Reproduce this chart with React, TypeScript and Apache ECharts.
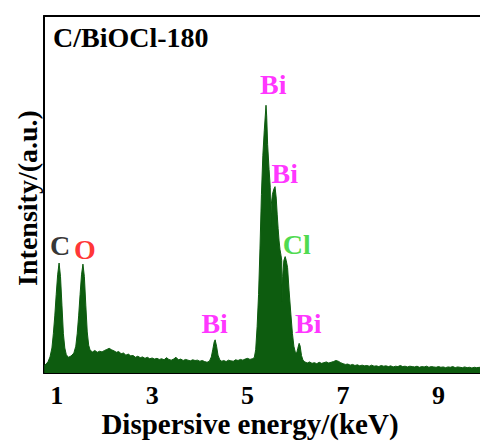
import { useEffect, useRef } from 'react';
import * as echarts from 'echarts';

const energy = [
  0.74, 0.78, 0.82, 0.86, 0.9, 0.93, 0.96, 0.99, 1.02, 1.05, 1.08, 1.11, 1.14, 1.17, 1.2, 1.24, 1.28, 1.32, 1.36, 1.4,
  1.43, 1.46, 1.49, 1.52, 1.55, 1.58, 1.61, 1.64, 1.67, 1.7, 1.75, 1.8, 1.85, 1.9, 1.95, 2.0, 2.05, 2.1, 2.15, 2.2,
  2.25, 2.3, 2.35, 2.4, 2.45, 2.5, 2.55, 2.6, 2.65, 2.7, 2.75, 2.8, 2.85, 2.9, 2.95, 3.0, 3.05, 3.1, 3.15, 3.2,
  3.25, 3.3, 3.35, 3.4, 3.45, 3.5, 3.55, 3.6, 3.65, 3.7, 3.75, 3.8, 3.85, 3.9, 3.95, 4.0, 4.05, 4.1, 4.15, 4.2,
  4.24, 4.27, 4.3, 4.32, 4.35, 4.38, 4.42, 4.46, 4.5, 4.55, 4.6, 4.65, 4.7, 4.75, 4.8, 4.85, 4.9, 4.95, 5.0, 5.05,
  5.1, 5.14, 5.17, 5.2, 5.23, 5.26, 5.29, 5.32, 5.35, 5.386, 5.4, 5.42, 5.45, 5.475, 5.485, 5.495, 5.52, 5.55, 5.575, 5.6,
  5.62, 5.64, 5.66, 5.68, 5.7, 5.715, 5.725, 5.735, 5.76, 5.787, 5.81, 5.838, 5.87, 5.907, 5.94, 5.97, 6.0, 6.03, 6.05, 6.08,
  6.1, 6.13, 6.16, 6.2, 6.25, 6.3, 6.35, 6.4, 6.45, 6.5, 6.55, 6.6, 6.65, 6.7, 6.75, 6.8, 6.85, 6.9, 6.95, 7.0,
  7.05, 7.1, 7.15, 7.2, 7.25, 7.3, 7.35, 7.4, 7.45, 7.5, 7.55, 7.6, 7.65, 7.7, 7.75, 7.8, 7.85, 7.9, 7.95, 8.0,
  8.05, 8.1, 8.15, 8.2, 8.25, 8.3, 8.35, 8.4, 8.45, 8.5, 8.55, 8.6, 8.65, 8.7, 8.75, 8.8, 8.85, 8.9, 8.95, 9.0,
  9.05, 9.1, 9.15, 9.2, 9.25, 9.3, 9.35, 9.4, 9.45, 9.5, 9.55, 9.6, 9.65, 9.7, 9.75, 9.8, 9.87,
];

const intensity = [
  2.2, 2.5, 3.2, 4.5, 7, 11, 16, 22, 27.5, 30.8, 27, 19, 11, 7, 5.2, 4.4, 4.6, 5.0, 5.6, 7.5,
  11, 16, 22, 27.5, 30.5, 27, 19, 11.5, 7.8, 6.4, 5.9, 6.3, 5.8, 6.1, 5.9, 6.3, 6.6, 6.9, 6.5, 6.2,
  5.8, 6.0, 5.4, 5.6, 5.0, 5.3, 4.8, 4.9, 4.4, 4.7, 4.3, 4.5, 4.1, 4.4, 4.0, 4.2, 3.9, 4.1, 3.8, 4.0,
  3.7, 4.3, 3.8, 3.6, 3.9, 4.4, 3.7, 3.9, 3.5, 3.8, 3.6, 3.4, 3.7, 3.5, 3.6, 3.3, 3.5, 3.2, 3.0, 3.3,
  4.5, 6.5, 8.7, 9.3, 7.5, 5.0, 3.6, 3.3, 3.5, 3.2, 3.6, 3.4, 3.3, 3.7, 3.5, 3.8, 3.6, 3.9, 4.1, 3.8,
  4.0, 4.3, 6.5, 13, 22, 35, 50, 61, 68, 75, 72, 64, 57, 52, 41, 47, 50, 51.5, 52.2, 49,
  44.5, 40.5, 37, 34.5, 33, 31.5, 20, 27, 31.5, 32.6, 31.5, 29.5, 23, 16.5, 11, 7.5, 5.8, 5.6, 6.8, 8.3,
  7.6, 4.9, 3.6, 3.1, 2.8, 3.1, 2.7, 2.9, 2.6, 3.0, 2.7, 2.9, 3.1, 2.8, 3.0, 3.2, 3.5, 3.3, 2.9, 2.6,
  2.4, 2.5, 2.2, 2.4, 2.1, 2.3, 2.0, 2.2, 2.0, 2.1, 1.9, 2.2, 1.9, 2.0, 1.8, 2.1, 1.9, 2.0, 1.8, 2.0,
  1.7, 1.9, 1.8, 2.1, 1.8, 1.9, 1.7, 1.9, 1.8, 1.7, 1.9, 1.6, 1.8, 1.7, 1.9, 1.6, 1.8, 1.7, 1.6, 1.8,
  1.6, 1.7, 1.5, 1.7, 1.6, 1.8, 1.5, 1.7, 1.6, 1.5, 1.7, 1.5, 1.6, 1.4, 1.6, 1.5, 1.6,
];

const peakNames = ['C', 'O', 'Bi', 'Bi', 'Cl', 'Bi', 'Bi'];
const peakEnergy = [1.07, 1.59, 5.54, 5.78, 6.03, 4.31, 6.27];
const peakIntensity = [35.6, 34.7, 80.7, 56.0, 36.0, 14.0, 14.0];
const peakColors = ['#000000', '#ff0000', '#ff00ff', '#ff00ff', '#1fd11f', '#ff00ff', '#ff00ff'];

const xTickValues = [1, 1.5, 2, 2.5, 3, 3.5, 4, 4.5, 5, 5.5, 6, 6.5, 7, 7.5, 8, 8.5, 9, 9.5];
const xLabelValues = [1, 3, 5, 7, 9];

const sampleName = 'C/BiOCl-180';
const xTitle = 'Dispersive energy/(keV)';
const yTitle = 'Intensity/(a.u.)';

const X_MIN = 0.734;
const X_MAX = 9.87;
const FONT = '"Liberation Serif", "Times New Roman", serif';
const GREEN = '#0d5c0f';

export default function App() {
  const ref = useRef<HTMLDivElement>(null);

  useEffect(() => {
    if (!ref.current) return;
    const chart = echarts.init(ref.current, undefined, { renderer: 'svg' });
    const axisLineStyle = { color: '#000', width: 2 };
    chart.setOption({
      animation: false,
      backgroundColor: '#fff',
      grid: { left: 44, top: 16, right: 0, bottom: 68 },
      xAxis: [
        {
          type: 'value',
          min: X_MIN,
          max: X_MAX,
          axisLine: { show: true, onZero: false, lineStyle: axisLineStyle },
          axisTick: {
            show: true,
            inside: true,
            length: 5,
            customValues: xTickValues,
            lineStyle: { color: '#000', width: 1.5 },
          },
          axisLabel: {
            customValues: xLabelValues,
            margin: 12,
            lineHeight: 20,
            fontFamily: FONT,
            fontWeight: 'bold',
            fontSize: 26,
            color: '#000',
          },
          splitLine: { show: false },
        },
        {
          type: 'value',
          position: 'top',
          min: X_MIN,
          max: X_MAX,
          axisLine: { show: true, onZero: false, lineStyle: axisLineStyle },
          axisTick: { show: false },
          axisLabel: { show: false },
          splitLine: { show: false },
        },
      ],
      yAxis: {
        type: 'value',
        min: 0,
        max: 100,
        axisLine: { show: true, onZero: false, lineStyle: axisLineStyle },
        axisTick: { show: false },
        axisLabel: { show: false },
        splitLine: { show: false },
      },
      series: [
        {
          type: 'line',
          xAxisIndex: 0,
          data: energy.map((e, i) => [e, intensity[i]]),
          showSymbol: false,
          symbol: 'none',
          lineStyle: { color: GREEN, width: 1 },
          areaStyle: { color: GREEN, opacity: 1 },
          z: 2,
          silent: true,
        },
        {
          type: 'scatter',
          xAxisIndex: 0,
          symbolSize: 0,
          silent: true,
          z: 5,
          data: peakEnergy.map((e, i) => ({
            value: [e, peakIntensity[i]],
            label: { color: peakColors[i] },
          })),
          label: {
            show: true,
            position: 'inside',
            align: 'center',
            verticalAlign: 'middle',
            formatter: (p: any) => peakNames[p.dataIndex],
            fontFamily: FONT,
            fontWeight: 'bold',
            fontSize: 28,
            lineHeight: 24,
          },
        },
      ],
      graphic: [
        {
          type: 'text',
          left: 53,
          top: 23,
          style: {
            text: sampleName,
            fontFamily: FONT,
            fontWeight: 'bold',
            fontSize: 28,
            fill: '#000',
          },
        },
        {
          type: 'text',
          x: 250,
          y: 424,
          style: {
            text: xTitle,
            fontFamily: FONT,
            fontWeight: 'bold',
            fontSize: 29,
            lineHeight: 22,
            fill: '#000',
            align: 'center',
            verticalAlign: 'middle',
          },
        },
        {
          type: 'text',
          x: 27,
          y: 198,
          rotation: Math.PI / 2,
          style: {
            text: yTitle,
            fontFamily: FONT,
            fontWeight: 'bold',
            fontSize: 28,
            fill: '#000',
            align: 'center',
            verticalAlign: 'middle',
          },
        },
      ],
    });
    return () => chart.dispose();
  }, []);

  return (
    <div
      ref={ref}
      style={{ position: 'fixed', left: 0, top: 0, width: 480, height: 441 }}
    />
  );
}
